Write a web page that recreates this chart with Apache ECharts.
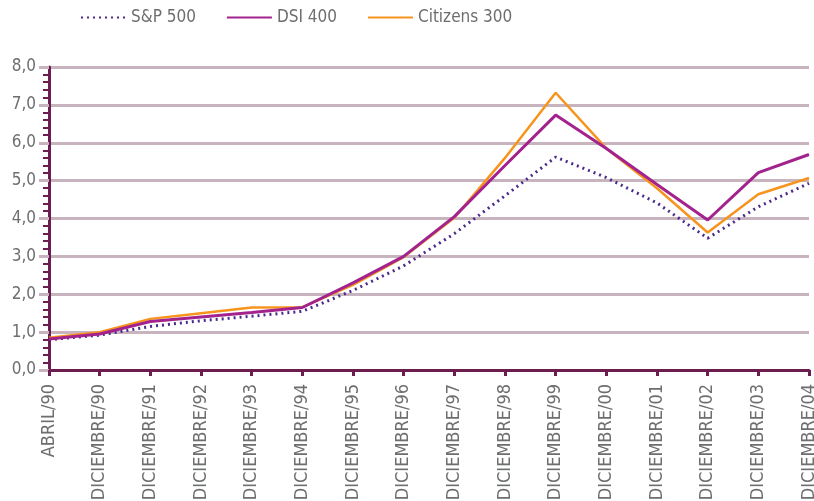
<!DOCTYPE html>
<html>
<head>
<meta charset="utf-8">
<script src="https://cdn.jsdelivr.net/npm/echarts@6/dist/echarts.min.js"></script>
<style>
  html, body { margin: 0; padding: 0; background: #fff; }
  #chart { width: 814px; height: 501px; }
</style>
</head>
<body>
<div id="chart"></div>
<script>
const fechas = ['ABRIL/90', 'DICIEMBRE/90', 'DICIEMBRE/91', 'DICIEMBRE/92', 'DICIEMBRE/93',
    'DICIEMBRE/94', 'DICIEMBRE/95', 'DICIEMBRE/96', 'DICIEMBRE/97', 'DICIEMBRE/98',
    'DICIEMBRE/99', 'DICIEMBRE/00', 'DICIEMBRE/01', 'DICIEMBRE/02', 'DICIEMBRE/03', 'DICIEMBRE/04']

const sp500 = [0.80, 0.92, 1.15, 1.30, 1.42, 1.55, 2.10, 2.75, 3.60, 4.60, 5.62, 5.08, 4.41, 3.48, 4.31, 4.93]
const dsi400 = [0.82, 0.95, 1.28, 1.40, 1.52, 1.65, 2.30, 3.00, 4.05, 5.40, 6.73, 5.85, 4.90, 3.96, 5.21, 5.69]
const citizens300 = [0.85, 1.00, 1.35, 1.50, 1.65, 1.66, 2.25, 2.98, 4.02, 5.60, 7.32, 5.85, 4.80, 3.63, 4.64, 5.07]

const yTicks = [0, 8, 1]  // min, max, interval

const fuente = 'Liberation Sans Narrow, DejaVu Sans Condensed, sans-serif'
const gris = '#6d6e70'

const chart = echarts.init(document.getElementById('chart'))

chart.setOption({
    animation: false,
    legend: {
        data: ['S&P 500', 'DSI 400', 'Citizens 300'],
        top: 4,
        left: 75,
        itemWidth: 45,
        itemHeight: 14,
        itemGap: 30,
        itemStyle: { opacity: 0 },
        textStyle: { fontFamily: fuente, fontSize: 17, color: gris }
    },
    grid: {
        left: 49,
        right: 5,
        top: 67,
        bottom: 131,
        containLabel: false,
        outerBoundsMode: 'none'
    },
    xAxis: {
        type: 'category',
        boundaryGap: false,
        data: fechas,
        axisLine: { lineStyle: { color: '#6b1d4f', width: 3 } },
        axisTick: { alignWithLabel: true, length: 6, lineStyle: { color: '#6b1d4f', width: 3 } },
        axisLabel: {
            interval: 0,
            rotate: 90,
            margin: 14,
            fontFamily: fuente,
            fontSize: 18,
            color: gris
        },
        splitLine: { show: false }
    },
    yAxis: {
        type: 'value',
        min: yTicks[0],
        max: yTicks[1],
        interval: yTicks[2],
        axisLine: { show: true, lineStyle: { color: '#6b1d4f', width: 3 } },
        axisTick: { show: true, length: 10, lineStyle: { color: '#c8b4be', width: 3 } },
        minorTick: { show: true, splitNumber: 5, length: 6, lineStyle: { color: '#6b1d4f', width: 2 } },
        axisLabel: {
            margin: 13,
            fontFamily: fuente,
            fontSize: 17,
            color: gris,
            formatter: v => v.toFixed(1).replace('.', ',')
        },
        splitLine: { show: true, lineStyle: { color: '#c8b4be', width: 3 } }
    },
    series: [
        {
            name: 'Citizens 300',
            type: 'line',
            symbol: 'none',
            color: '#f7941d',
            lineStyle: { width: 2.5, color: '#f7941d' },
            data: citizens300
        },
        {
            name: 'S&P 500',
            type: 'line',
            symbol: 'none',
            color: '#4b2a8c',
            lineStyle: { width: 3, color: '#4b2a8c', type: [2, 4] },
            data: sp500
        },
        {
            name: 'DSI 400',
            type: 'line',
            symbol: 'none',
            color: '#a3238e',
            lineStyle: { width: 3, color: '#a3238e' },
            data: dsi400
        }
    ]
})
</script>
</body>
</html>
